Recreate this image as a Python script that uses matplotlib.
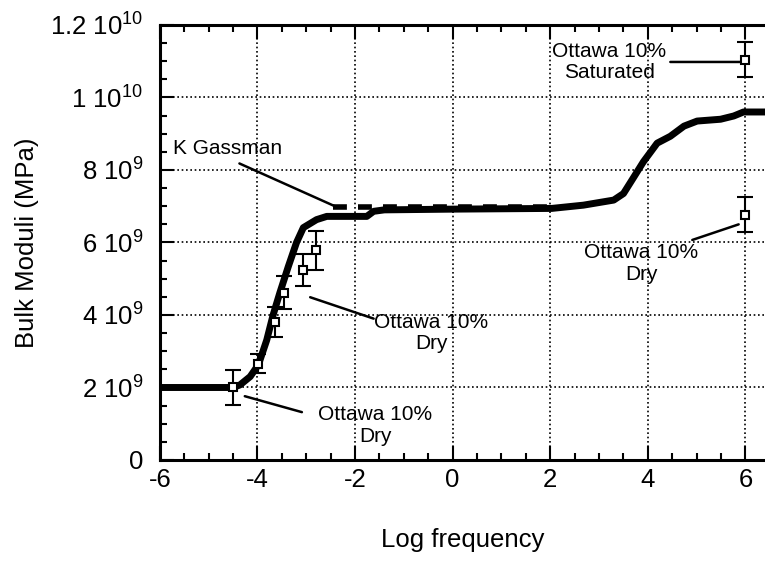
import numpy as np
import matplotlib
matplotlib.use("Agg")
import matplotlib.pyplot as plt
from matplotlib.ticker import MultipleLocator, FixedLocator, FixedFormatter

plt.rcParams["font.family"] = ["Liberation Sans", "DejaVu Sans"]
plt.rcParams["mathtext.fontset"] = "custom"
plt.rcParams["mathtext.rm"] = "Liberation Sans"
plt.rcParams["mathtext.it"] = "Liberation Sans"
plt.rcParams["axes.unicode_minus"] = False

# ── Data ─────────────────────────────────────────────────────────────
curve_x = [-6.0, -4.5, -4.36, -4.15, -3.98, -3.81, -3.68, -3.54, -3.37, -3.2,
           -3.06, -2.79, -2.58, -1.76, -1.62, -1.4, 0.0, 2.03, 2.68, 3.3,
           3.5, 3.71, 3.91, 4.19, 4.46, 4.74, 5.01, 5.49, 5.76, 5.96, 6.4]
curve_y = [2.0e9, 2.0e9, 2.07e9, 2.3e9, 2.63e9, 3.31e9, 4.0e9, 4.62e9, 5.33e9, 6.0e9,
           6.41e9, 6.63e9, 6.72e9, 6.72e9, 6.86e9, 6.9e9, 6.92e9, 6.94e9, 7.03e9, 7.17e9,
           7.35e9, 7.8e9, 8.23e9, 8.74e9, 8.93e9, 9.21e9, 9.35e9, 9.4e9, 9.49e9, 9.6e9, 9.6e9]

gassman_x = [-2.45, 2.0]
gassman_y = [6.98e9, 6.98e9]

meas_x = [-4.5, -3.98, -3.65, -3.46, -3.06, -2.81, 6.0, 6.0]
meas_y = [2.0e9, 2.66e9, 3.8e9, 4.62e9, 5.24e9, 5.78e9, 1.104e10, 6.77e9]
meas_err = [0.48e9, 0.27e9, 0.42e9, 0.45e9, 0.45e9, 0.53e9, 0.48e9, 0.48e9]

ytick_vals = [0, 2e9, 4e9, 6e9, 8e9, 1e10, 1.2e10]
ytick_labels = ["0", r"$\mathregular{2\ 10^{9}}$", r"$\mathregular{4\ 10^{9}}$",
                r"$\mathregular{6\ 10^{9}}$", r"$\mathregular{8\ 10^{9}}$",
                r"$\mathregular{1\ 10^{10}}$", r"$\mathregular{1.2\ 10^{10}}$"]

# ── Figure ───────────────────────────────────────────────────────────
fig = plt.figure(figsize=(7.65, 5.64), dpi=100)
ax = fig.add_axes([0.209, 0.1844, 0.791, 0.7713])

ax.plot(curve_x, curve_y, color="black", lw=5, solid_capstyle="butt",
        solid_joinstyle="round", zorder=4)
ax.plot(gassman_x, gassman_y, color="black", lw=4, dashes=(2.5, 2), zorder=4)

ax.errorbar(meas_x, meas_y, yerr=meas_err, fmt="s", mfc="white", mec="black",
            mew=1.5, ms=6, ecolor="black", elinewidth=1.5, capsize=6,
            capthick=1.5, zorder=5)

# ── Annotations ──────────────────────────────────────────────────────
line_kw = dict(arrowstyle="-", color="black", lw=1.8, shrinkA=0, shrinkB=0)
txt_kw = dict(fontsize=15, ha="center", va="center", linespacing=1.15)

ax.text(-5.73, 8.6e9, "K Gassman", fontsize=15, ha="left", va="center")
ax.annotate("", xy=(-2.38, 6.98e9), xytext=(-4.37, 8.18e9), arrowprops=line_kw)

ax.text(-1.59, 0.95e9, "Ottawa 10%\nDry", **txt_kw)
ax.annotate("", xy=(-3.09, 1.32e9), xytext=(-4.26, 1.76e9), arrowprops=line_kw)

ax.text(-0.44, 3.5e9, "Ottawa 10%\nDry", **txt_kw)
ax.annotate("", xy=(-1.62, 3.9e9), xytext=(-2.92, 4.49e9), arrowprops=line_kw)

ax.text(3.21, 1.097e10, "Ottawa 10%\nSaturated", **txt_kw)
ax.annotate("", xy=(5.9, 1.098e10), xytext=(4.46, 1.098e10), arrowprops=line_kw)

ax.text(3.87, 5.42e9, "Ottawa 10%\nDry", **txt_kw)
ax.annotate("", xy=(5.86, 6.5e9), xytext=(4.91, 6.07e9), arrowprops=line_kw)

# ── Axes style ───────────────────────────────────────────────────────
ax.set_xlim(-6, 6.4)
ax.set_ylim(0, 1.2e10)
ax.xaxis.set_major_locator(MultipleLocator(2))
ax.xaxis.set_minor_locator(MultipleLocator(0.5))
ax.yaxis.set_major_locator(FixedLocator(ytick_vals))
ax.yaxis.set_major_formatter(FixedFormatter(ytick_labels))
ax.yaxis.set_minor_locator(MultipleLocator(5e8))

ax.tick_params(axis="both", which="both", direction="in", top=True, right=False,
               width=1.5, colors="black", labelsize=18.5)
ax.tick_params(axis="both", which="major", length=10)
ax.tick_params(axis="both", which="minor", length=5)
ax.tick_params(axis="x", pad=6)
ax.tick_params(axis="y", pad=12)

for side in ["left", "bottom", "top"]:
    ax.spines[side].set_linewidth(2.2)
ax.spines["right"].set_visible(False)

ax.grid(True, which="major", color="black", linestyle=(0, (1, 1.6)), lw=1.2)
ax.set_axisbelow(True)

ax.set_xlabel("Log frequency", fontsize=18.5, labelpad=26)
ax.set_ylabel("Bulk Moduli (MPa)", fontsize=18.5, labelpad=8)

fig.savefig("out.png", dpi=100)
